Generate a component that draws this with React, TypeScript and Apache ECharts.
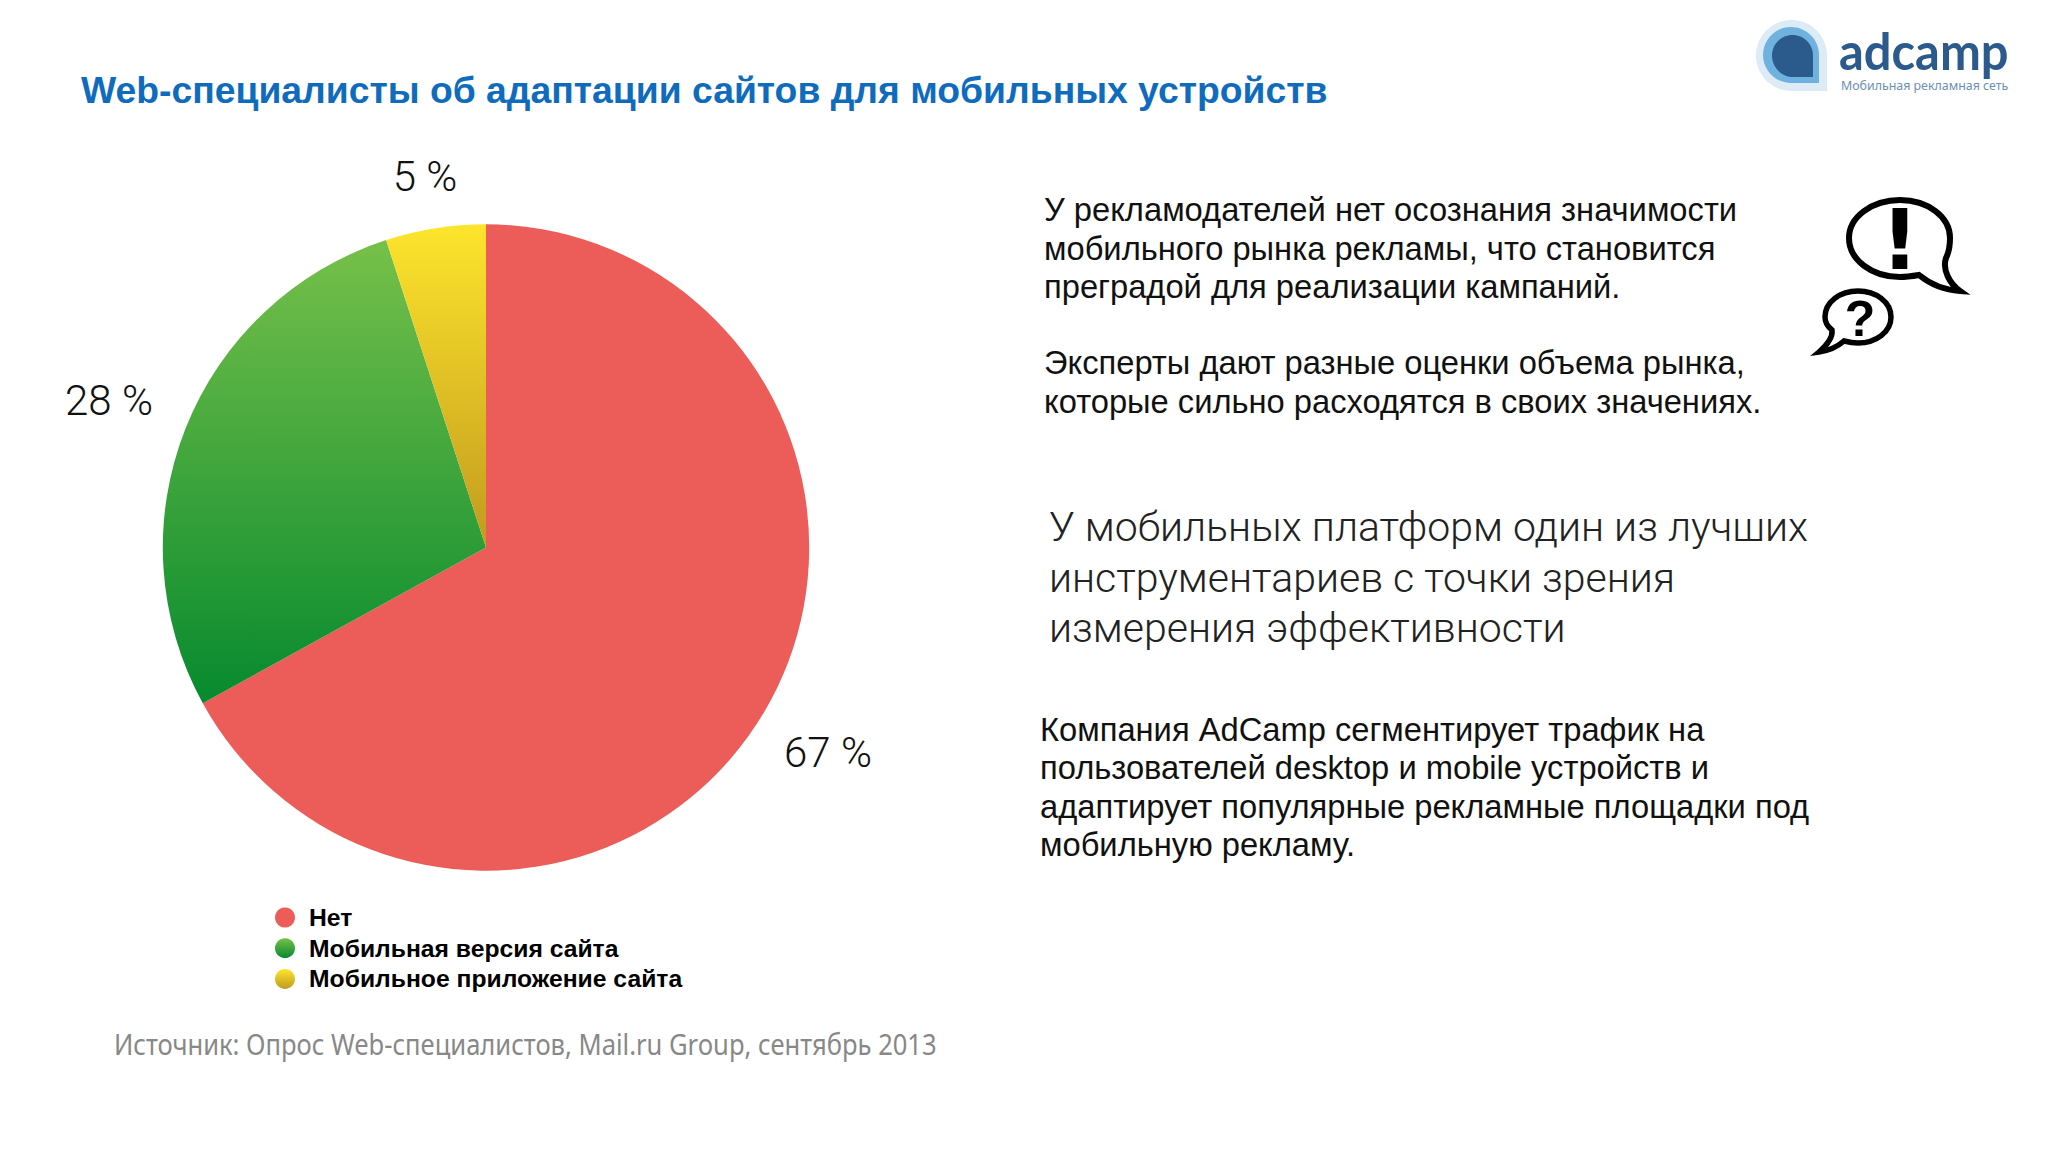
import React, { useEffect, useRef } from "react";
import * as echarts from "echarts";

const titleText = "Web-специалисты об адаптации сайтов для мобильных устройств";
const categories = ["Нет", "Мобильная версия сайта", "Мобильное приложение сайта"];
const shares = [67, 28, 5];
const paragraphOne = [
  "У рекламодателей нет осознания значимости",
  "мобильного рынка рекламы, что становится",
  "преградой для реализации кампаний.",
];
const paragraphTwo = [
  "Эксперты дают разные оценки объема рынка,",
  "которые сильно расходятся в своих значениях.",
];
const paragraphThree = [
  "У мобильных платформ один из лучших",
  "инструментариев с точки зрения",
  "измерения эффективности",
];
const paragraphFour = [
  "Компания AdCamp сегментирует трафик на",
  "пользователей desktop и mobile устройств и",
  "адаптирует популярные рекламные площадки под",
  "мобильную рекламу.",
];
const sourceText = "Источник: Опрос Web-специалистов, Mail.ru Group, сентябрь 2013";
const logoName = "adcamp";
const logoTagline = "Мобильная рекламная сеть";

const drop = (x0: number, y0: number, x1: number, y1: number) => {
  const r = (x1 - x0) / 2;
  const k = r * 0.5523;
  const cx = x0 + r;
  const cy = y0 + r;
  return `M${cx} ${y0} C${cx + k} ${y0} ${x1} ${cy - k} ${x1} ${cy} L${x1} ${y1} L${cx} ${y1} C${cx - k} ${y1} ${x0} ${cy + k} ${x0} ${cy} C${x0} ${cy - k} ${cx - k} ${y0} ${cx} ${y0} Z`;
};

const bigBubble =
  "M1900 200 C1872 200 1849 217 1849 238 C1849 260 1872 277 1900 277 C1905 277 1913 276 1919 275 C1930 284 1945 290 1960 291 C1950 284 1942 270 1946 258 C1949 252 1950 245 1950 238 C1950 217 1928 200 1900 200 Z";
const smallBubble =
  "M1858 291 C1876 291 1891 302 1891 317 C1891 332 1876 343 1858 343 C1853 343 1848 342 1844 341 C1836 348 1826 351 1819 352 C1826 346 1833 338 1832 330 C1828 327 1825 322 1825 317 C1825 302 1840 291 1858 291 Z";

echarts.graphic.registerShape("dropOuter", echarts.graphic.extendPath(drop(1756, 20, 1827, 91), {}));
echarts.graphic.registerShape("dropMid", echarts.graphic.extendPath(drop(1763, 27, 1819, 83), {}));
echarts.graphic.registerShape("dropInner", echarts.graphic.extendPath(drop(1772, 35, 1813, 77), {}));
echarts.graphic.registerShape("bigBubble", echarts.graphic.extendPath(bigBubble, {}));
echarts.graphic.registerShape("smallBubble", echarts.graphic.extendPath(smallBubble, {}));

const sans = '"Liberation Sans", Arial, sans-serif';
const light = 'Roboto, "Liberation Sans", sans-serif';

const vGrad = (top: string, bottom: string) => ({
  type: "linear",
  x: 0,
  y: 0,
  x2: 0,
  y2: 1,
  colorStops: [
    { offset: 0, color: top },
    { offset: 1, color: bottom },
  ],
});

const sliceColors = ["#ec5c58", vGrad("#77c04a", "#068a2e"), vGrad("#fde52c", "#c29a1e")];
const labelSpots = [
  { x: 828, y: 752 },
  { x: 109, y: 400 },
  { x: 425, y: 176 },
];

const textBlock = (lines: string[], x: number, y: number, step: number, font: string, fill: string) =>
  lines.map((text, i) => ({
    type: "text",
    x,
    y: y + i * step,
    style: { text, font, fill, textVerticalAlign: "middle", textAlign: "left" },
  }));

export default function App() {
  const ref = useRef<HTMLDivElement>(null);
  useEffect(() => {
    const chart = echarts.init(ref.current!, undefined, { renderer: "svg" });
    const body = `32.7px ${sans}`;
    chart.setOption({
      animation: false,
      backgroundColor: "#ffffff",
      title: {
        text: titleText,
        left: 76,
        top: 66,
        textStyle: { color: "#0f6cbd", fontFamily: sans, fontWeight: "bold", fontSize: 37.3 },
      },
      legend: {
        orient: "vertical",
        left: 270,
        top: 900,
        icon: "circle",
        itemWidth: 20,
        itemHeight: 20,
        itemGap: 5.7,
        selectedMode: false,
        data: categories,
        textStyle: { color: "#000", fontFamily: sans, fontWeight: "bold", fontSize: 24.7, padding: [0, 0, 0, 9] },
      },
      series: [
        {
          type: "pie",
          center: [486, 547.5],
          radius: [0, 323.2],
          startAngle: 90,
          clockwise: true,
          avoidLabelOverlap: false,
          silent: true,
          data: categories.map((name, i) => ({
            name,
            value: shares[i],
            itemStyle: { color: sliceColors[i] },
          })),
          label: {
            show: true,
            position: "outside",
            formatter: "{c} %",
            color: "#111",
            fontFamily: light,
            fontWeight: 300,
            fontSize: 42,
          },
          labelLine: { show: false },
          labelLayout: (p: any) => ({
            x: labelSpots[p.dataIndex].x,
            y: labelSpots[p.dataIndex].y,
            align: "center",
            verticalAlign: "middle",
          }),
        },
      ],
      graphic: [
        { type: "dropOuter", style: { fill: "#dcebf6" } },
        { type: "dropMid", style: { fill: "#6fb2e0" } },
        { type: "dropInner", style: { fill: "#2b5a8c" } },
        { type: "text", x: 1839, y: 50, scaleX: 0.94, style: { text: logoName, font: `bold 52px Lato, ${sans}`, fill: "#2b5a8c", textVerticalAlign: "middle" } },
        { type: "text", x: 1841, y: 85, style: { text: logoTagline, font: `12.4px "Noto Sans", ${sans}`, fill: "#6d8fb3", textVerticalAlign: "middle" } },
        { type: "bigBubble", style: { fill: "none", stroke: "#000", lineWidth: 6 } },
        { type: "smallBubble", style: { fill: "none", stroke: "#000", lineWidth: 5.5 } },
        { type: "text", x: 1900, y: 240, style: { text: "!", font: `bold 84px "DejaVu Sans", ${sans}`, fill: "#000", textAlign: "center", textVerticalAlign: "middle" } },
        { type: "text", x: 1860, y: 319, style: { text: "?", font: `bold 50px ${sans}`, fill: "#000", textAlign: "center", textVerticalAlign: "middle" } },
        ...textBlock(paragraphOne, 1044, 209.5, 38.5, body, "#111"),
        ...textBlock(paragraphTwo, 1044, 362.5, 38.5, body, "#111"),
        ...textBlock(paragraphThree, 1049, 527, 50.5, `300 41px ${light}`, "#222"),
        ...textBlock(paragraphFour, 1040, 729, 38.5, body, "#111"),
        { type: "text", x: 114, y: 1044, scaleX: 0.9, style: { text: sourceText, font: `28.4px "Noto Sans", ${sans}`, fill: "#888", textVerticalAlign: "middle" } },
      ],
    });
    return () => chart.dispose();
  }, []);
  return <div ref={ref} style={{ position: "absolute", left: 0, top: 0, width: 2048, height: 1152 }} />;
}
